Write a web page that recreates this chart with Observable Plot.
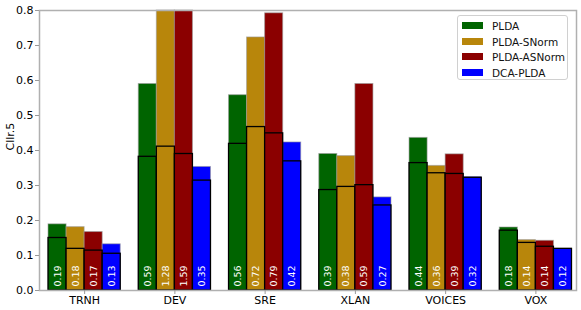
<!DOCTYPE html>
<html>
<head>
<meta charset="utf-8">
<script src="https://cdn.jsdelivr.net/npm/d3@7"></script>
<script src="https://cdn.jsdelivr.net/npm/@observablehq/plot@0.6"></script>
<style>
  body { margin: 0; background: white; }
  #wrap { position: relative; width: 581px; height: 310px; font-family: "DejaVu Sans", sans-serif; }
  #legend { position: absolute; left: 457px; top: 15px; width: 111px; height: 65px; background: white;
            border: 1px solid #d0d0d0; border-radius: 3px; box-sizing: border-box; font-size: 10.5px; }
  .row { position: absolute; left: 0; height: 14px; line-height: 14px; }
  .sw { position: absolute; left: 4px; top: 3px; width: 21px; height: 7px; }
  .lb { position: absolute; left: 34px; top: 0; white-space: nowrap; color: #111; }
</style>
</head>
<body>
<div id="wrap"><div id="chart"></div><div id="legend"></div></div>
<script>
const groups = ["TRNH", "DEV", "SRE", "XLAN", "VOICES", "VOX"];
const series = ["PLDA", "PLDA-SNorm", "PLDA-ASNorm", "DCA-PLDA"];
const colors = ["#006400", "#b8860b", "#8b0000", "#0000ff"];
// Actual Cllr (full bar, labelled)
const actPLDA   = [0.189, 0.59, 0.558, 0.39, 0.436, 0.18];
const actSNorm  = [0.181, 1.28, 0.723, 0.384, 0.356, 0.144];
const actASNorm = [0.167, 1.59, 0.792, 0.59, 0.389, 0.142];
const actDCA    = [0.132, 0.353, 0.423, 0.266, 0.324, 0.119];
// Minimum Cllr (inner outlined bar)
const minPLDA   = [0.150, 0.382, 0.419, 0.287, 0.364, 0.171];
const minSNorm  = [0.119, 0.411, 0.467, 0.296, 0.335, 0.136];
const minASNorm = [0.114, 0.390, 0.449, 0.301, 0.333, 0.125];
const minDCA    = [0.105, 0.314, 0.369, 0.243, 0.322, 0.119];
const yTicks = [0, 0.1, 0.2, 0.3, 0.4, 0.5, 0.6, 0.7, 0.8];

const act = [actPLDA, actSNorm, actASNorm, actDCA];
const mins = [minPLDA, minSNorm, minASNorm, minDCA];
const W = 0.2;
const data = [];
series.forEach((s, si) => groups.forEach((g, gi) => {
  const x1 = gi - 0.4 + si * W;
  data.push({series: s, si, group: g, x1, x2: x1 + W, xc: x1 + W / 2, act: act[si][gi], min: mins[si][gi]});
}));

const plot = Plot.plot({
  width: 581, height: 310,
  marginLeft: 39, marginRight: 5, marginTop: 10, marginBottom: 20,
  style: {fontFamily: "DejaVu Sans, sans-serif", fontSize: "11px", background: "white"},
  x: {type: "linear", domain: [-0.5, 5.45]},
  y: {domain: [0, 0.8], clamp: true},
  color: {domain: series, range: colors},
  marks: [
    Plot.rectY(data, {x1: "x1", x2: "x2", y1: 0, y2: "act", fill: "series", stroke: "#999", strokeOpacity: 0.6, strokeWidth: 1}),
    Plot.rectY(data, {x1: "x1", x2: "x2", y1: 0, y2: "min", fill: "series", stroke: "black", strokeWidth: 1.3}),
    Plot.text(data, {x: "xc", y: 0, text: d => d3.format(".2f")(d.act), rotate: -90, textAnchor: "start",
      lineAnchor: "middle", dy: -4, fill: "white", fontSize: 9.5}),
    Plot.frame({stroke: "#b0b0b0", strokeWidth: 1.5}),
    Plot.axisY({ticks: yTicks, tickFormat: d3.format(".1f"), tickSize: 4, tickPadding: 2, stroke: "#999",
      fill: "black", label: null, fontSize: 11}),
    Plot.axisX({ticks: d3.range(groups.length), tickFormat: i => groups[i], tickSize: 4, tickPadding: 2,
      stroke: "#999", fill: "black", label: null, fontSize: 11}),
    Plot.text(["Cllr.5"], {frameAnchor: "left", dx: -29, rotate: -90, fill: "black", fontSize: 11, text: d => d})
  ]
});
document.getElementById("chart").appendChild(plot);

const leg = document.getElementById("legend");
series.forEach((s, i) => {
  const row = document.createElement("div");
  row.className = "row";
  row.style.top = (3 + i * 15.5) + "px";
  row.innerHTML = `<div class="sw" style="background:${colors[i]}"></div><div class="lb">${s}</div>`;
  leg.appendChild(row);
});
</script>
</body>
</html>
